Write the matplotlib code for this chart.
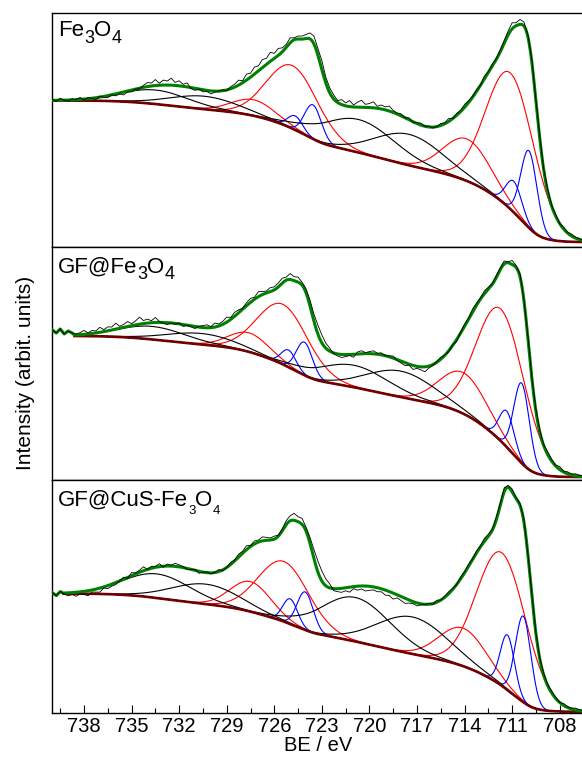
import numpy as np
import matplotlib
matplotlib.use("Agg")
import matplotlib.pyplot as plt
from matplotlib.ticker import MultipleLocator
from matplotlib.transforms import IdentityTransform

plt.rcParams['font.family'] = ['Liberation Sans', 'DejaVu Sans']

# binding-energy window (eV) and sampling of the measured spectra
be_high, be_low = 740.0, 706.5
meas_step = 0.25

# ---------------- Fe3O4 ----------------
fe3o4_bg_ends = [4.5, 146.0]          # Shirley background at low / high BE end
fe3o4_fit_max = 740.0
fe3o4_red_center = [711.1, 713.85, 724.85, 727.3]
fe3o4_red_height = [136, 42, 63, 16]
fe3o4_red_fwhm = [3.6, 3.5, 3.8, 3.2]
fe3o4_blue_center = [709.94, 710.9, 723.56, 724.68]
fe3o4_blue_height = [77, 31, 34, 14]
fe3o4_blue_fwhm = [1.2, 1.2, 1.25, 1.1]
fe3o4_sat_center = [717.5, 720.7, 730.4, 733.5]
fe3o4_sat_height = [31, 33, 13, 14]
fe3o4_sat_fwhm = [5.0, 5.4, 5.0, 5.0]
fe3o4_resid = [1, -1, 2, 0, -1, 1, 0, 2, -1, 1, 0, -2, 1,
               -1, -2, 0, -2, -1, -3, -1, -2, 0, -1,
               2, 4, 3, 6, 2, 5, 4, 7, 3, 5, 2, 4,
               -1, -2, 0, -2, -1, -3, -1,
               0, 1, -1, 2,
               3, 5, 2, 6, 4, 7, 5, 8, 6, 9, 5, 7, 4, 3, 5, 2, 3,
               3, 4, 6, 8, 7, 9, 6, 5,
               4, 2, 5, 3, 6, 2, 5, 7, 3, 4, 6, 2, 4, 3, 5, 2,
               1, 2, 0, 2, -1, 1, 2, 0, 1, -1,
               0, 2, 1, 3, 0, 2, 1, 3, 2, 1, 2, 0, 3, 1, 2, 1,
               2, 3, 4, 6, 3, 5, 4, 2, 3, 1,
               2, 1, 3, 1, 2, 0, 2, 1, 2, 1, 1, 0]

# ---------------- GF@Fe3O4 ----------------
gf_bg_ends = [3.0, 144.0]
gf_fit_max = 738.6
gf_red_center = [711.7, 714.1, 725.45, 727.6]
gf_red_height = [132, 41, 60, 19]
gf_red_fwhm = [3.6, 3.5, 3.8, 3.0]
gf_blue_center = [710.4, 711.35, 724.1, 725.1]
gf_blue_height = [80, 36, 33, 17]
gf_blue_fwhm = [1.15, 1.1, 1.2, 1.1]
gf_sat_center = [718.0, 721.0, 730.6, 733.7]
gf_sat_height = [26, 22, 11, 13]
gf_sat_fwhm = [5.0, 5.2, 5.0, 5.0]
gf_resid = [6, 3, 7, 2, 5, 3,
            1, 2, 4, 1, 3, 2, 5, 2, 4, 3, 6, 2, 3, 5, 2, 4, 7, 3, 4, 2, 5,
            1, -1, -2, 0, -1, 1, -2, 0, -1, -2, 1,
            2, 3, 1, 4, 2, 3, 5, 2, 4, 3, 1, 3, 4, 2, 5, 3, 2, 4, 3,
            4, 5, 3, 6, 4, 5, 3,
            4, 6, 7, 9, 8, 5, 3,
            -1, -2, -3, -2, -1, -3,
            2, 3, 1, 2, 3, 1, 2, 0, 1, 2,
            -1, -2, -3, -1, -4, -2, -3, -5, -2, -1, 1, 2, 0, -1, 1, -2,
            1, 2, 1, 3, 2, 1, 3, 2, 1, 2,
            2, 3, 1, 4, 2, 3, 1, 2, 1, 2,
            2, 1, 3, 2, 1, 3, 1, 2, 1, 2, 1, 1]

# ---------------- GF@CuS-Fe3O4 ----------------
cus_bg_ends = [1.5, 119.7]
cus_fit_max = 739.3
cus_red_center = [711.65, 714.1, 725.4, 727.5]
cus_red_height = [133, 38, 60, 30]
cus_red_fwhm = [3.7, 3.5, 3.8, 3.0]
cus_blue_center = [710.3, 711.3, 724.05, 725.0]
cus_blue_height = [86, 55, 38, 25]
cus_blue_fwhm = [1.15, 1.05, 1.2, 1.1]
cus_sat_center = [717.3, 720.9, 730.3, 733.4]
cus_sat_height = [37, 44, 20, 24]
cus_sat_fwhm = [5.2, 5.2, 5.0, 5.0]
cus_resid = [1, -2, 2,
             -1, -3, -2, -4, -2, -3, -5, -2, -3, -4, -1, -3, -2, -2,
             0, 2, -1, 3, 1, 2, 4, 0, 2, 1, 3, -1, 2, 1, 3, 2,
             1, -1, 0, 1, -2, 0, 1, -1, 0, 2, -1, 0,
             2, 1, 3, 2, 4, 1, 3, 2, 4, 3, 2, 3, 1, 2,
             4, 5, 7, 5, 6, 4,
             6, 9, 11, 10, 7, 4,
             -2, -3, -4, -3, -5, -2, -4, -3, -5, -4, -3, -4,
             -3, -5, -4, -6, -3, -4, -5, -3, -2, -3,
             -1, 0, 1, -1, 2, 0, 1, 2, 1, 0, 2, 1, 2, 1,
             2, 1, 3, 2, 1, 3, 2, 4, 2, 3, 1, 2, 3, 1, 2, 1,
             1, 2, 1, 2, 1, 0, 2, 1, 1, 2, 1, 1]

xticks = [738, 735, 732, 729, 726, 723, 720, 717, 714, 711, 708]

# sample names: (text, is_subscript) pieces
fe3o4_name = [('Fe', 0), ('3', 1), ('O', 0), ('4', 1)]
gf_name = [('GF@Fe', 0), ('3', 1), ('O', 0), ('4', 1)]
cus_name = [('GF@CuS-Fe', 0), ('3', 1), ('O', 0), ('4', 1)]

panels = [
    dict(name=fe3o4_name, sub=(13, 6.7), bg=fe3o4_bg_ends, fit_max=fe3o4_fit_max,
         red=(fe3o4_red_center, fe3o4_red_height, fe3o4_red_fwhm),
         blue=(fe3o4_blue_center, fe3o4_blue_height, fe3o4_blue_fwhm),
         sat=(fe3o4_sat_center, fe3o4_sat_height, fe3o4_sat_fwhm),
         resid=fe3o4_resid),
    dict(name=gf_name, sub=(13, 6.7), bg=gf_bg_ends, fit_max=gf_fit_max,
         red=(gf_red_center, gf_red_height, gf_red_fwhm),
         blue=(gf_blue_center, gf_blue_height, gf_blue_fwhm),
         sat=(gf_sat_center, gf_sat_height, gf_sat_fwhm),
         resid=gf_resid),
    dict(name=cus_name, sub=(9.5, 8.6), bg=cus_bg_ends, fit_max=cus_fit_max,
         red=(cus_red_center, cus_red_height, cus_red_fwhm),
         blue=(cus_blue_center, cus_blue_height, cus_blue_fwhm),
         sat=(cus_sat_center, cus_sat_height, cus_sat_fwhm),
         resid=cus_resid),
]


def gauss(e, c, h, w):
    s = w / 2.3548
    return h * np.exp(-0.5 * ((e - c) / s) ** 2)


C_RED, C_BLUE, C_SAT = '#ff0000', '#0000ff', '#000000'
C_BG, C_ENV, C_DATA = '#720000', '#008000', '#000000'
LABEL_PT = 16

fig = plt.figure(figsize=(5.82, 7.63), dpi=100)
W, H = 582.0, 763.0
left_px, right_px = 52.3, 583.5
edges_px = [13.0, 246.5, 480.0, 713.3]
label_baseline_px = [36.0, 272.7, 505.7]
renderer = fig.canvas.get_renderer()


def sample_label(pieces, x_px, y_px, sub_pt, sub_drop):
    x = x_px
    for s, is_sub in pieces:
        size = sub_pt if is_sub else LABEL_PT
        y = H - y_px - (sub_drop if is_sub else 0.0)
        t = fig.text(x, y, s, fontsize=size, ha='left', va='baseline',
                     transform=IdentityTransform())
        x = t.get_window_extent(renderer).x1


for k, p in enumerate(panels):
    top, bot = edges_px[k], edges_px[k + 1]
    ax = fig.add_axes([left_px / W, 1 - bot / H, (right_px - left_px) / W, (bot - top) / H])

    e = np.arange(be_low, p['fit_max'] + 1e-9, 0.02)
    comps = []
    for key, col in (('red', C_RED), ('blue', C_BLUE), ('sat', C_SAT)):
        for c, h, w in zip(*p[key]):
            comps.append((gauss(e, c, h, w), col))
    peak_sum = sum(c for c, _ in comps)
    # Shirley-type background: step proportional to the integrated peak area
    cum = np.cumsum(peak_sum)
    cum = (cum - cum[0]) / (cum[-1] - cum[0])
    lo, hi = p['bg']
    bg = lo + (hi - lo) * cum
    envelope = bg + peak_sum

    e_meas = be_high - meas_step * np.arange(len(p['resid']))
    resid = np.array(p['resid'], dtype=float)
    inside = e_meas <= p['fit_max'] + 1e-9
    meas = np.where(inside, np.interp(e_meas, e, envelope), hi) + resid

    for curve, col in comps:
        ax.plot(e, bg + curve, color=col, lw=0.8, zorder=2)
    ax.plot(e, bg, color=C_BG, lw=1.9, zorder=3)

    outside = ~inside
    env_x = np.concatenate([e_meas[outside], e[::-1]])
    env_y = np.concatenate([meas[outside], envelope[::-1]])
    ax.plot(env_x, env_y, color=C_ENV, lw=2.2, zorder=4)
    ax.plot(e_meas, meas, color=C_DATA, lw=0.6, zorder=5)

    ax.set_xlim(be_high, be_low)
    ax.set_ylim(0, bot - top)
    ax.set_yticks([])
    ax.spines['right'].set_visible(False)
    for s in ('top', 'bottom', 'left'):
        ax.spines[s].set_linewidth(1.0)
    sample_label(p['name'], 58.0, label_baseline_px[k], *p['sub'])
    if k < 2:
        ax.set_xticks([])
    else:
        ax.set_xticks(xticks)
        ax.xaxis.set_minor_locator(MultipleLocator(1.5))
        ax.tick_params(axis='x', which='major', direction='in', length=6, width=0.8,
                       labelsize=14.5, pad=3)
        ax.tick_params(axis='x', which='minor', direction='in', length=3.5, width=0.8)
        ax.set_xlabel('BE / eV', fontsize=14.5, labelpad=0)

fig.text(0.043, 0.511, 'Intensity (arbit. units)', rotation=90, ha='center', va='center',
         fontsize=15)

fig.savefig('out.png', dpi=100)
